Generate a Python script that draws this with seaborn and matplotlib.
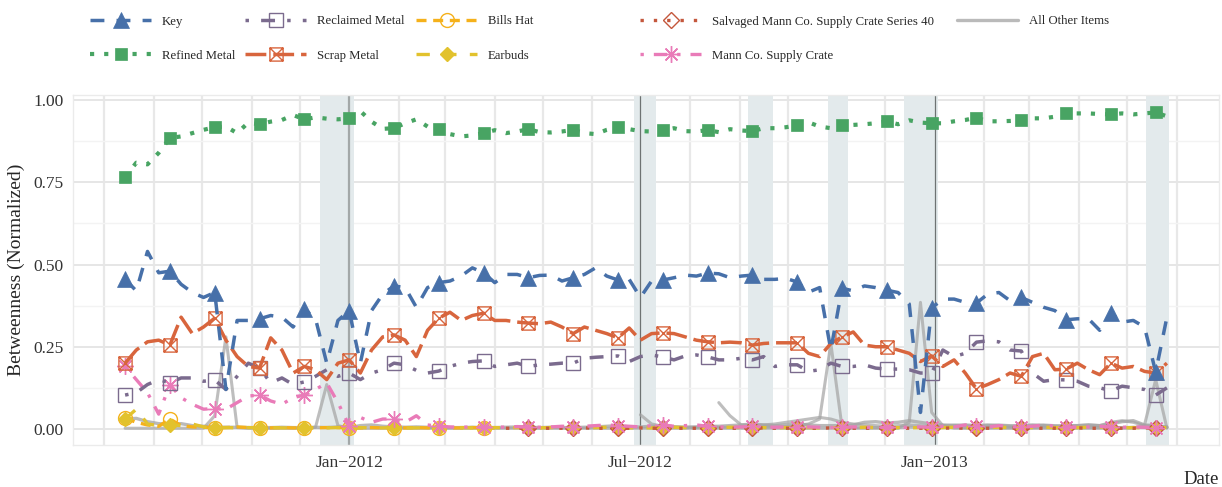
import numpy as np
import pandas as pd
import matplotlib
matplotlib.use("Agg")
import matplotlib.pyplot as plt
import matplotlib.dates as mdates
from matplotlib.path import Path
import seaborn as sns

nan = np.nan

# weekly snapshots
weeks = pd.date_range("2011-08-14", periods=94, freq="7D")

key = [0.455, 0.42, 0.54, 0.475, 0.48, 0.44, 0.415, 0.40, 0.415, 0.12,
       0.33, 0.33, 0.335, 0.345, 0.34, 0.31, 0.365, 0.335, 0.20, 0.33,
       0.36, 0.20, 0.36, 0.41, 0.435, 0.43, 0.37, 0.43, 0.445, 0.45,
       0.465, 0.49, 0.475, 0.445, 0.47, 0.47, 0.46, 0.467, 0.468, 0.45,
       0.46, 0.47, 0.49, 0.465, 0.453, 0.455, 0.40, 0.45, 0.453, 0.46,
       0.468, 0.465, 0.474, 0.472, 0.46, 0.465, 0.468, 0.455, 0.455, 0.458,
       0.447, 0.416, 0.43, 0.24, 0.428, 0.42, 0.435, 0.43, 0.422, 0.415,
       0.38, 0.05, 0.368, 0.395, 0.395, 0.385, 0.383, 0.41, 0.415, 0.39,
       0.40, 0.385, 0.37, 0.36, 0.332, 0.335, 0.335, 0.30, 0.352, 0.325,
       0.33, 0.31, 0.173, 0.34]

refined = [0.766, 0.81, 0.805, 0.84, 0.885, 0.89, 0.90, 0.91, 0.918, 0.92,
           0.90, 0.932, 0.927, 0.935, 0.94, 0.955, 0.942, 0.948, 0.944, 0.942,
           0.945, 0.967, 0.935, 0.913, 0.915, 0.93, 0.942, 0.92, 0.912, 0.897,
           0.89, 0.893, 0.90, 0.909, 0.90, 0.905, 0.912, 0.903, 0.902, 0.905,
           0.91, 0.90, 0.897, 0.91, 0.918, 0.912, 0.906, 0.905, 0.909, 0.915,
           0.906, 0.905, 0.909, 0.903, 0.912, 0.908, 0.906, 0.915, 0.915, 0.918,
           0.924, 0.933, 0.92, 0.915, 0.924, 0.925, 0.927, 0.93, 0.936, 0.927,
           0.939, 0.932, 0.930, 0.930, 0.936, 0.94, 0.947, 0.936, 0.936, 0.937,
           0.939, 0.945, 0.945, 0.95, 0.960, 0.96, 0.96, 0.958, 0.957, 0.96,
           0.957, 0.96, 0.963, 0.951]

reclaimed = [0.103, 0.11, 0.135, 0.15, 0.14, 0.155, 0.155, 0.145, 0.149, 0.12,
             0.16, 0.20, 0.185, 0.14, 0.155, 0.135, 0.143, 0.16, 0.18, 0.16,
             0.17, 0.15, 0.17, 0.18, 0.20, 0.195, 0.178, 0.17, 0.176, 0.19,
             0.20, 0.205, 0.207, 0.19, 0.195, 0.20, 0.19, 0.195, 0.197, 0.20,
             0.20, 0.215, 0.218, 0.22, 0.222, 0.205, 0.22, 0.225, 0.219, 0.21,
             0.222, 0.225, 0.219, 0.21, 0.21, 0.215, 0.21, 0.22, 0.19, 0.195,
             0.195, 0.175, 0.18, 0.20, 0.19, 0.19, 0.195, 0.185, 0.182, 0.182,
             0.18, 0.17, 0.17, 0.24, 0.22, 0.23, 0.264, 0.268, 0.265, 0.24,
             0.237, 0.17, 0.145, 0.15, 0.149, 0.145, 0.13, 0.125, 0.116, 0.13,
             0.125, 0.12, 0.103, 0.125]

scrap = [0.20, 0.24, 0.265, 0.27, 0.255, 0.34, 0.29, 0.31, 0.337, 0.27,
         0.22, 0.19, 0.185, 0.277, 0.24, 0.17, 0.19, 0.18, 0.15, 0.20,
         0.21, 0.17, 0.24, 0.28, 0.286, 0.27, 0.22, 0.30, 0.337, 0.355,
         0.33, 0.345, 0.352, 0.33, 0.33, 0.325, 0.322, 0.32, 0.325, 0.31,
         0.29, 0.31, 0.30, 0.29, 0.277, 0.307, 0.27, 0.29, 0.292, 0.29,
         0.28, 0.27, 0.265, 0.262, 0.264, 0.262, 0.255, 0.26, 0.262, 0.262,
         0.262, 0.23, 0.22, 0.26, 0.28, 0.295, 0.255, 0.25, 0.25, 0.24,
         0.23, 0.205, 0.222, 0.19, 0.21, 0.17, 0.122, 0.135, 0.15, 0.17,
         0.16, 0.22, 0.23, 0.18, 0.182, 0.20, 0.18, 0.165, 0.20, 0.185,
         0.19, 0.175, 0.17, 0.20]

bills_hat = [0.033, 0.02, 0.012, 0.008, 0.03, 0.01, 0.006, 0.005, 0.003, 0.004,
             0.006, 0.004, 0.003, 0.003, 0.004, 0.003, 0.003, 0.003, 0.004, 0.004,
             0.003, 0.003, 0.004, 0.003, 0.003, 0.003, 0.004, 0.003, 0.003, 0.003,
             0.003, 0.004, 0.003, 0.003, nan, nan, nan, nan, nan, nan,
             nan, nan, nan, nan, nan, nan, nan, nan, nan, nan,
             nan, nan, nan, nan, nan, nan, nan, nan, nan, nan,
             nan, nan, nan, nan, nan, nan, nan, nan, nan, nan,
             nan, nan, nan, nan, nan, nan, nan, nan, nan, nan,
             nan, nan, nan, nan, nan, nan, nan, nan, nan, nan,
             nan, nan, nan, nan]

earbuds = [0.03, 0.06, 0.015, 0.01, 0.012, 0.01, 0.015, 0.006, 0.003, 0.004,
           0.003, 0.004, 0.003, 0.004, 0.003, 0.003, 0.004, 0.003, 0.003, 0.004,
           0.003, 0.004, 0.003, 0.003, 0.004, 0.003, 0.003, 0.004, 0.003, 0.003,
           0.004, 0.003, 0.003, 0.004, 0.003, 0.004, 0.003, 0.003, 0.004, 0.005,
           0.004, 0.003, 0.004, 0.005, 0.004, 0.003, 0.004, 0.003, 0.004, 0.005,
           0.004, 0.003, 0.003, 0.004, 0.005, 0.004, 0.003, 0.004, 0.003, 0.004,
           0.003, 0.004, 0.003, 0.004, 0.003, 0.004, 0.005, 0.004, 0.003, 0.004,
           0.003, 0.004, 0.003, 0.004, 0.005, 0.004, 0.003, 0.004, 0.005, 0.004,
           0.003, 0.004, 0.005, 0.004, 0.003, 0.004, 0.005, 0.006, 0.004, 0.003,
           0.004, 0.003, 0.003, 0.004]

salvaged = [nan, nan, nan, nan, nan, nan, nan, nan, nan, nan,
            nan, nan, nan, nan, nan, nan, nan, nan, nan, nan,
            nan, nan, nan, nan, nan, nan, nan, nan, nan, nan,
            nan, nan, nan, nan, 0.002, 0.002, 0.003, 0.002, 0.002, 0.002,
            0.002, 0.003, 0.002, 0.002, 0.002, 0.002, 0.003, 0.002, 0.002, 0.002,
            0.002, 0.002, 0.003, 0.002, 0.002, 0.002, 0.002, 0.003, 0.002, 0.002,
            0.002, 0.002, 0.002, 0.003, 0.002, 0.002, 0.002, 0.002, 0.003, 0.002,
            0.002, 0.002, 0.002, 0.002, 0.003, 0.002, 0.002, 0.002, 0.002, 0.003,
            0.002, 0.002, 0.002, 0.002, 0.002, 0.003, 0.002, 0.002, 0.002, 0.002,
            0.002, 0.003, 0.002, 0.002]

mann_crate = [0.19, 0.15, 0.11, 0.045, 0.135, 0.095, 0.075, 0.06, 0.062, 0.06,
              0.08, 0.10, 0.103, 0.085, 0.075, 0.095, 0.103, 0.12, 0.14, 0.08,
              0.01, 0.035, 0.02, 0.03, 0.03, 0.02, 0.04, 0.012, 0.008, 0.006,
              0.005, 0.006, 0.005, 0.006, 0.005, 0.007, 0.006, 0.005, 0.006, 0.008,
              0.007, 0.008, 0.01, 0.012, 0.01, 0.008, 0.006, 0.01, 0.012, 0.008,
              0.01, 0.012, 0.008, 0.006, 0.005, 0.006, 0.008, 0.006, 0.005, 0.006,
              0.005, 0.006, 0.005, 0.004, 0.005, 0.006, 0.005, 0.004, 0.005, 0.004,
              0.005, 0.006, 0.005, 0.008, 0.006, 0.012, 0.008, 0.006, 0.01, 0.008,
              0.006, 0.008, 0.012, 0.008, 0.006, 0.005, 0.006, 0.008, 0.006, 0.005,
              0.006, 0.005, 0.004, 0.004]

# the remaining items, drawn in grey
other_1 = [0.030, 0.032, 0.022, 0.016, 0.014, 0.016, 0.010, 0.008, 0.006, 0.005,
           0.005, 0.004, 0.004, 0.004, 0.005, 0.004, 0.004, 0.005, 0.004, 0.006,
           0.004, 0.010, 0.012, 0.008, 0.006, 0.005, 0.006, 0.005, 0.004, 0.004,
           0.004, 0.005, 0.004, 0.004, 0.005, 0.006, 0.005, 0.004, 0.005, 0.004,
           0.004, 0.005, 0.006, 0.008, 0.010, 0.006, 0.006, 0.008, 0.008, 0.006,
           0.005, 0.006, 0.008, 0.008, 0.010, 0.012, 0.015, 0.012, 0.010, 0.012,
           0.015, 0.012, 0.010, 0.010, 0.010, 0.012, 0.020, 0.022, 0.018, 0.020,
           0.025, 0.020, 0.015, 0.012, 0.010, 0.012, 0.010, 0.012, 0.010, 0.008,
           0.010, 0.012, 0.010, 0.008, 0.010, 0.010, 0.012, 0.010, 0.015, 0.022,
           0.025, 0.012, 0.010, 0.005]

other_2 = [0.002, 0.002, 0.002, 0.002, 0.002, 0.002, 0.002, 0.002, 0.04, 0.28,
           0.004, 0.002, 0.002, 0.002, 0.002, 0.002, 0.002, 0.005, 0.135, 0.01,
           0.002, 0.002, 0.002, 0.002, 0.002, 0.002, 0.002, 0.002, 0.002, 0.002,
           0.002, 0.002, 0.002, 0.002, 0.002, 0.002, 0.002, 0.002, 0.002, 0.002,
           0.002, 0.002, 0.002, 0.002, 0.002, 0.002, 0.002, 0.002, 0.002, 0.002,
           0.002, 0.002, 0.002, 0.002, 0.002, 0.002, 0.002, 0.002, 0.002, 0.002,
           0.002, 0.002, 0.002, 0.002, 0.002, 0.002, 0.002, 0.002, 0.002, 0.002,
           0.02, 0.385, 0.05, 0.01, 0.002, 0.002, 0.002, 0.002, 0.002, 0.002,
           0.002, 0.002, 0.002, 0.002, 0.002, 0.002, 0.002, 0.002, 0.002, 0.002,
           0.002, 0.012, 0.15, 0.002]

other_3 = [nan, nan, nan, nan, nan, nan, nan, nan, nan, nan,
           nan, nan, nan, nan, nan, nan, nan, nan, nan, nan,
           nan, nan, nan, nan, nan, nan, nan, nan, nan, nan,
           nan, nan, nan, nan, nan, nan, nan, nan, nan, nan,
           nan, nan, nan, nan, nan, nan, 0.043, 0.015, 0.008, 0.006,
           0.005, 0.005, 0.006, 0.005, 0.005, 0.006, 0.005, 0.005, 0.006, 0.008,
           0.010, 0.015, 0.03, 0.26, 0.005, 0.004, 0.005, 0.004, 0.005, 0.004,
           0.005, 0.004, 0.005, 0.004, 0.005, 0.004, 0.005, 0.004, 0.005, 0.004,
           0.005, 0.004, 0.005, 0.004, 0.005, 0.004, 0.005, 0.004, 0.005, 0.004,
           0.005, 0.004, 0.005, 0.004]

other_4 = [nan, nan, nan, nan, nan, nan, nan, nan, nan, nan,
           nan, nan, nan, nan, nan, nan, nan, nan, nan, nan,
           nan, nan, nan, nan, nan, nan, nan, nan, nan, nan,
           nan, nan, nan, nan, nan, nan, nan, nan, nan, nan,
           nan, nan, nan, nan, nan, nan, nan, nan, nan, nan,
           nan, nan, nan, 0.08, 0.04, 0.012, 0.01, 0.012, 0.015, 0.02,
           0.025, 0.03, 0.035, 0.03, 0.02, 0.015, 0.012, 0.01, 0.008, 0.01,
           0.012, 0.01, 0.008, 0.01, 0.012, 0.01, 0.008, 0.01, 0.012, 0.01,
           0.008, 0.01, 0.012, 0.01, 0.008, 0.01, 0.012, 0.01, 0.02, 0.025,
           0.02, 0.01, 0.008, 0.006]

# highlighted periods
bands = [("2011-12-14", "2012-01-04"), ("2012-06-27", "2012-07-11"),
         ("2012-09-06", "2012-09-22"), ("2012-10-26", "2012-11-08"),
         ("2012-12-13", "2013-01-03"), ("2013-05-13", "2013-05-27")]
break_dates = ["2012-01-01", "2012-07-01", "2013-01-01"]
break_labels = ["Jan\u22122012", "Jul\u22122012", "Jan\u22122013"]

# legend layout: one column each, as in the original key
legend_cols = [["Key", "Refined Metal"],
               ["Reclaimed Metal", "Scrap Metal"],
               ["Bills Hat", "Earbuds"],
               ["Salvaged Mann Co. Supply Crate Series 40", "Mann Co. Supply Crate"],
               ["All Other Items"]]
legend_x = [90, 245, 416, 640, 957]

boxed_x = Path([(-1, -1), (1, -1), (1, 1), (-1, 1), (-1, -1),
                (-1, -1), (1, 1), (-1, 1), (1, -1)],
               [Path.MOVETO, Path.LINETO, Path.LINETO, Path.LINETO, Path.CLOSEPOLY,
                Path.MOVETO, Path.LINETO, Path.MOVETO, Path.LINETO])

sns.set_style("white")
plt.rcParams["font.family"] = ["Liberation Serif", "DejaVu Serif"]

fig = plt.figure(figsize=(12.22, 4.87), dpi=100)
ax = fig.add_axes([73 / 1222, 1 - 445 / 487, 1146 / 1222, 350 / 487])

for a, b in bands:
    ax.axvspan(pd.Timestamp(a), pd.Timestamp(b), color="#e3eaec", lw=0, zorder=0.6)
for d, c, w in zip(break_dates, ["#a3a8a8", "#6e7373", "#6e7373"], [1.6, 0.9, 0.9]):
    ax.axvline(pd.Timestamp(d), color=c, lw=w, zorder=0.7)

grey = "#a3a3a3"
common = dict(errorbar=None, ax=ax)
sns.lineplot(x=weeks, y=other_1, color=grey, lw=2.4, alpha=0.75, label="All Other Items", **common)
sns.lineplot(x=weeks, y=other_2, color=grey, lw=2.2, alpha=0.7, **common)
sns.lineplot(x=weeks, y=other_3, color=grey, lw=2.2, alpha=0.7, **common)
sns.lineplot(x=weeks, y=other_4, color=grey, lw=2.2, alpha=0.7, **common)

sns.lineplot(x=weeks, y=bills_hat, color="#f5b11b", lw=2.4, linestyle=(0, (3, 2)),
             marker="o", ms=10, mfc="none", mec="#f5b11b", mew=1.0, markevery=4,
             label="Bills Hat", **common)
sns.lineplot(x=weeks, y=earbuds, color="#e2c22d", lw=2.4, linestyle=(0, (4, 4)),
             marker="D", ms=7, mfc="#e2c22d", mec="#e2c22d", mew=1.0, markevery=4,
             label="Earbuds", **common)
sns.lineplot(x=weeks, y=salvaged, color="#c4573c", lw=2.4, linestyle=(0, (1, 3)),
             marker="D", ms=8, mfc="none", mec="#c4573c", mew=1.0, markevery=(2, 4),
             label="Salvaged Mann Co. Supply Crate Series 40", **common)
sns.lineplot(x=weeks, y=mann_crate, color="#e97bb8", lw=2.4, linestyle=(0, (1, 3, 4, 3)),
             marker=(8, 2, 0), ms=12, mec="#e97bb8", mew=1.0, markevery=4,
             label="Mann Co. Supply Crate", **common)
sns.lineplot(x=weeks, y=reclaimed, color="#7b6b8e", lw=2.5, linestyle=(0, (1, 3.5, 4, 3.5)),
             marker="s", ms=9.5, mfc="none", mec="#7b6b8e", mew=1.0, markevery=4,
             label="Reclaimed Metal", **common)
sns.lineplot(x=weeks, y=scrap, color="#d8653d", lw=2.5, linestyle=(0, (6, 2)),
             marker=boxed_x, ms=9.5, mfc="none", mec="#d8653d", mew=1.0, markevery=4,
             label="Scrap Metal", **common)
sns.lineplot(x=weeks, y=key, color="#4770a9", lw=2.5, linestyle=(0, (4, 3.5)),
             marker="^", ms=11, mfc="#4770a9", mec="#4770a9", mew=0.5, markevery=4,
             label="Key", **common)
sns.lineplot(x=weeks, y=refined, color="#48a463", lw=3, linestyle=(0, (1, 2.4)),
             marker="s", ms=9, mfc="#48a463", mec="#48a463", mew=0.5, markevery=4,
             label="Refined Metal", **common)

# axes styling
span = weeks[-1] - weeks[0]
ax.set_xlim(weeks[0] - span * 0.05, weeks[-1] + span * 0.05)
ax.set_ylim(-0.049, 1.016)
ax.set_xticks([pd.Timestamp(d) for d in break_dates])
ax.set_xticklabels(break_labels)
ax.xaxis.set_minor_locator(mdates.MonthLocator())
ax.set_yticks([0, 0.25, 0.5, 0.75, 1.0])
ax.set_yticklabels(["0.00", "0.25", "0.50", "0.75", "1.00"])
ax.set_yticks([0.125, 0.375, 0.625, 0.875], minor=True)
ax.grid(which="major", axis="y", color="#e6e6e6", lw=1.4, zorder=0)
ax.grid(which="minor", axis="y", color="#f3f3f3", lw=1.0, zorder=0)
ax.grid(which="both", axis="x", color="#e8e8e8", lw=1.6, zorder=0)
ax.set_axisbelow(True)
ax.tick_params(which="both", length=0, labelsize=12.5, labelcolor="#333333")
ax.tick_params(axis="x", pad=7)
ax.tick_params(axis="y", pad=7)
for s in ax.spines.values():
    s.set_color("#ebebeb")
    s.set_linewidth(1.0)

ax.set_ylabel("Betweenness (Normalized)", fontsize=14, labelpad=6)
ax.set_xlabel("Date", fontsize=13.5, loc="right", labelpad=0)

handles, labels = ax.get_legend_handles_labels()
lookup = dict(zip(labels, handles))
ax.legend_ = None
for col, x0 in zip(legend_cols, legend_x):
    fig.legend([lookup[n] for n in col], col, ncol=1, loc="upper left",
               bbox_to_anchor=(x0 / 1222, 1 - 15.5 / 487),
               frameon=False, fontsize=9.2, handlelength=4.8, handletextpad=0.8,
               labelspacing=1.74, borderpad=0, borderaxespad=0)

fig.savefig("out.png", dpi=100)
